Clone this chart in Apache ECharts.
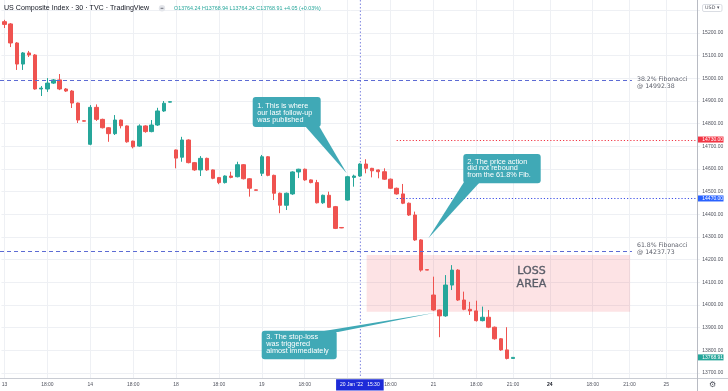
<!DOCTYPE html>
<html><head><meta charset="utf-8">
<script src="https://cdn.jsdelivr.net/npm/echarts/dist/echarts.min.js"></script>
<style>html,body{margin:0;padding:0;background:#fff}#c{width:728px;height:391px}</style>
</head><body><div id="c"></div>
<script>
// ---------------- data ----------------
const sessionDays = ['13', '14', '18', '19', '20', '21'];
const sessionTimes = ['14:30','15:00','15:30','16:00','16:30','17:00','17:30','18:00','18:30','19:00','19:30','20:00','20:30','21:00'];
const futureSlots = 30;

const opens = [15250,15240,15156,15063,15112,15103,14953,14953,14979,14993,14953,14944,14891,14813,
 14709,14872,14819,14782,14756,14816,14790,14723,14701,14790,14765,14794,14856,14895,
 14684,14652,14728,14628,14596,14647,14596,14562,14540,14569,14566,14619,14557,14508,
 14581,14654,14572,14493,14440,14490,14587,14599,14552,14540,14451,14484,14434,14342,
 14463,14563,14569,14622,14603,14596,14588,14555,14515,14490,14449,14397,14287,14156,
 14044,13978,13952,14088,14154,14022,13981,13974,13931,13946,13902,13851,13802,13764.24];
const closes = [15238,15156,15063,15112,15103,14953,14957,14979,14993,14953,14944,14891,14816,14811,
 14872,14819,14782,14756,14816,14791,14720,14698,14790,14765,14794,14856,14890,14897,
 14648,14728,14628,14596,14647,14596,14559,14540,14569,14563,14619,14557,14515,14506,
 14654,14572,14493,14440,14493,14587,14599,14552,14540,14451,14484,14431,14338,14340,
 14566,14569,14622,14603,14592,14588,14555,14515,14490,14449,14397,14287,14154,14154,
 13978,13952,14088,14154,14022,13981,13974,13931,13946,13902,13851,13802,13764.24,13768.91];
const lows = [15222,15138,15037,15037,15094,14950,14922,14940,14975,14948,14940,14869,14803,14810,
 14705,14812,14779,14720,14750,14779,14716,14691,14698,14760,14762,14790,14852,14894,
 14603,14632,14625,14592,14569,14592,14555,14533,14536,14559,14563,14554,14478,14505,
 14569,14568,14463,14405,14419,14486,14560,14548,14537,14448,14446,14428,14335,14339,
 14460,14522,14566,14581,14563,14559,14552,14512,14487,14445,14393,14283,14147,14153,
 13975,13858,13948,14066,14018,13977,13956,13927,13928,13898,13847,13798,13760,13764.24];
const highs = [15258,15244,15160,15116,15121,15107,14966,15001,14997,15019,14957,14948,14893,14815,
 14882,14885,14822,14785,14838,14818,14792,14725,14797,14793,14816,14870,14900,14899,
 14686,14742,14731,14631,14657,14650,14598,14565,14572,14588,14632,14622,14560,14509,
 14662,14657,14575,14496,14496,14590,14601,14602,14554,14552,14487,14500,14437,14343,
 14570,14575,14625,14643,14605,14598,14603,14558,14518,14534,14452,14412,14290,14157,
 14125,13980,14132,14176,14158,14059,14014,14019,13993,13978,13905,13854,13902,13768.94];

// time-axis tick labels: [bar index, text]
const xTickLabels = [[0,'13'],[7,'18:00'],[14,'14'],[21,'18:00'],[28,'18'],[35,'18:00'],[42,'19'],[49,'18:00'],
  [56,'20'],[63,'18:00'],[70,'21'],[77,'18:00'],[83,'21:00'],[89,'24'],[96,'18:00'],[102,'21:00'],[108,'25']];
const boldTicks = ['24'];
const crosshairIndex = 58;
const crosshairLabel = "20 Jan '22   15:30";

const yRange = [13677.96, 15345.59];
const yStep = 100;
const yHiddenAbove = 15250;

const fibLevels = [
  {name: '38.2% Fibonacci', value: 14992.38},
  {name: '61.8% Fibonacci', value: 14237.73}
];
const fibSpan = [-0.73, 102.4];          // bar-index extent of the fib lines
const redLevel = 14730.00;
const blueLevel = 14470.00;
const levelStart = 64;                    // bar index where dotted levels start
const lastPrice = 13768.91;
const lossArea = {from: 59.1, to: 102.1, top: 14221, bottom: 13970, text: 'LOSS\nAREA'};
const headerTitle = 'US Composite Index · 30 · TVC · TradingView';
const headerOHLC = 'O13764.24 H13768.94 L13764.24 C13768.91 +4.05 (+0.03%)';
const callouts = [
  {lines: ['1. This is where', 'our last follow-up', 'was published'], tip: [55.85, 14581]},
  {lines: ['2. The price action', 'did not rebound', 'from the 61.8% Fib.'], tip: [69.17, 14294]},
  {lines: ['3. The stop-loss', 'was triggered', 'almost immediately'], tip: [70.26, 13966]}
];

// ---------------- build ----------------
const nBars = opens.length;
const categories = [];
for (let i = 0; i < nBars + futureSlots; i++) {
  categories.push(i < nBars ? sessionDays[Math.floor(i / 14)] + ' ' + sessionTimes[i % 14] : 'f' + i);
}
const ohlc = opens.map((o, i) => [o, closes[i], lows[i], highs[i]]);
const labelAt = {};
xTickLabels.forEach(([i, t]) => { labelAt[i] = t; });

const AX = '"Liberation Sans", Arial, sans-serif';
const TV = '"DejaVu Sans", Verdana, sans-serif';
const UP = '#26a69a', DOWN = '#ef5350';

const chart = echarts.init(document.getElementById('c'), null, {renderer: 'canvas'});
chart.setOption({
  animation: false,
  backgroundColor: '#ffffff',
  grid: {left: 1.44, top: 0, width: 698.5, height: 378, containLabel: false, outerBoundsMode: 'none'},
  xAxis: {
    type: 'category', data: categories, boundaryGap: true,
    axisLine: {show: false}, axisTick: {show: false}, splitLine: {show: false},
    axisLabel: {
      interval: 0, margin: 1.2, hideOverlap: false,
      formatter: (v, idx) => {
        if (idx === crosshairIndex) return '{hl|' + crosshairLabel + '}';
        const t = labelAt[idx];
        if (t == null || Math.abs(idx - crosshairIndex) < 4) return '';
        return (boldTicks.includes(t) ? '{b|' : '{n|') + t + '}';
      },
      rich: {
        n: {fontSize: 5, color: '#50535e', fontFamily: AX, padding: [3, 0, 0, 0]},
        b: {fontSize: 5, color: '#131722', fontWeight: 'bold', fontFamily: AX, padding: [3, 0, 0, 0]},
        hl: {fontSize: 5, color: '#ffffff', backgroundColor: '#1d2bd8', fontFamily: AX, padding: [3.2, 4, 3, 4]}
      }
    }
  },
  yAxis: {
    type: 'value', position: 'right', scale: true,
    min: yRange[0], max: yRange[1], splitNumber: 16, minInterval: yStep, maxInterval: yStep,
    axisLine: {show: false}, axisTick: {show: false},
    splitLine: {show: true, showMinLine: false, showMaxLine: false, lineStyle: {color: '#eef0f4', width: 1}},
    axisLabel: {
      showMinLabel: false, showMaxLabel: false, margin: 2.4, align: 'left',
      fontSize: 5, color: '#50535e', fontFamily: AX,
      formatter: v => (v > yHiddenAbove ? '' : v.toFixed(2))
    }
  },
  series: [{
    type: 'candlestick',
    data: ohlc,
    barWidth: 3.9,
    z: 2,
    itemStyle: {color: UP, color0: DOWN, borderColor: UP, borderColor0: DOWN, borderWidth: 1},
    markLine: {
      silent: true, symbol: 'none', z: 0, animation: false,
      label: {show: false},
      lineStyle: {color: '#eef0f4', type: 'solid', width: 1},
      data: xTickLabels.map(([i]) => ({xAxis: i}))
    }
  }]
});

// ------------- annotations (positions through the axes) -------------
const x0 = chart.convertToPixel({xAxisIndex: 0}, 0);
const x1 = chart.convertToPixel({xAxisIndex: 0}, 1);
const xAt = f => x0 + f * (x1 - x0);
const yAt = v => chart.convertToPixel({yAxisIndex: 0}, v);
const sepX = 697.5, axisY = 378.5;
const g = [];

// crosshair vertical dotted line
g.push({type: 'line', z: 1, shape: {x1: xAt(crosshairIndex) + 0.5, y1: 0, x2: xAt(crosshairIndex) + 0.5, y2: axisY},
  style: {stroke: '#7f86e0', lineWidth: 1, lineDash: [1.5, 2]}});

// loss area
const laTop = yAt(lossArea.top), laBot = yAt(lossArea.bottom);
g.push({type: 'rect', z: 1, shape: {x: xAt(lossArea.from), y: laTop, width: xAt(lossArea.to) - xAt(lossArea.from), height: laBot - laTop},
  style: {fill: 'rgba(242,54,69,0.14)'}});
g.push({type: 'text', z: 1, x: xAt(86), y: laTop + 22.8,
  style: {text: lossArea.text, fill: '#5a5d68', fontSize: 11, fontFamily: TV, align: 'center', verticalAlign: 'middle', lineHeight: 12.3,
    stroke: '#5a5d68', lineWidth: 0.35}});

// fib lines + labels
const fibTextTop = [-4.9, -9.6];
fibLevels.forEach((f, k) => {
  const y = Math.round(yAt(f.value)) + 0.5;
  g.push({type: 'line', z: 10, shape: {x1: xAt(fibSpan[0]), y1: y, x2: xAt(fibSpan[1]), y2: y},
    style: {stroke: '#5c6bd4', lineWidth: 1, lineDash: [4, 3]}});
  g.push({type: 'text', z: 10, x: 637, y: y + fibTextTop[k],
    style: {text: f.name + '\n@ ' + f.value.toFixed(2), fill: '#5d606b', fontSize: 6.2, fontFamily: TV, align: 'left', verticalAlign: 'top', lineHeight: 7}});
});

// dotted price levels
[[redLevel, '#f23645'], [blueLevel, '#3f51e6']].forEach(([v, c]) => {
  const y = Math.round(yAt(v)) + 0.5;
  g.push({type: 'line', z: 10, shape: {x1: xAt(levelStart), y1: y, x2: sepX, y2: y},
    style: {stroke: c, lineWidth: 1, lineDash: [1.2, 2]}});
});

// callouts
const CC = '#40a9b6';
const boxes = [
  {box: [252.7, 97, 68, 30], base: [[305, 126], [319, 126]], textTop: 102.5, textX: 257.2},
  {box: [463.3, 154, 77.4, 29.3], base: [[464, 182], [480, 182]], textTop: 158.2, textX: 467.2},
  {box: [261.7, 330.7, 75, 28.6], base: [[318, 332], [338, 332]], textTop: 333.8, textX: 266.2}
];
callouts.forEach((c, k) => {
  const b = boxes[k];
  const tip = [xAt(c.tip[0]), yAt(c.tip[1])];
  g.push({type: 'polygon', z: 20, shape: {points: [b.base[0], b.base[1], tip]}, style: {fill: CC}});
  g.push({type: 'rect', z: 20, shape: {x: b.box[0], y: b.box[1], width: b.box[2], height: b.box[3], r: 3}, style: {fill: CC}});
  g.push({type: 'text', z: 21, x: b.textX, y: b.textTop,
    style: {text: c.lines.join('\n'), fill: '#ffffff', fontSize: 7.3, fontFamily: AX, align: 'left', verticalAlign: 'top', lineHeight: 6.8}});
});

// header
g.push({type: 'text', z: 30, x: 4, y: 8.3, style: {text: headerTitle, fill: '#131722', fontSize: 7.1, fontFamily: AX, verticalAlign: 'middle'}});
g.push({type: 'circle', z: 30, shape: {cx: 162, cy: 8.3, r: 3.2}, style: {fill: '#e3e5ea'}});
g.push({type: 'line', z: 31, shape: {x1: 160.6, y1: 8.3, x2: 163.4, y2: 8.3}, style: {stroke: '#50535e', lineWidth: 0.8}});
g.push({type: 'text', z: 30, x: 174, y: 8.3, style: {text: headerOHLC, fill: UP, fontSize: 5.35, fontFamily: AX, verticalAlign: 'middle'}});

// axis frame
g.push({type: 'line', z: 30, shape: {x1: 0, y1: axisY, x2: 728, y2: axisY}, style: {stroke: '#c9ccd3', lineWidth: 1}});
g.push({type: 'line', z: 30, shape: {x1: sepX, y1: 0, x2: sepX, y2: 391}, style: {stroke: '#b8bbc3', lineWidth: 1}});

// price badges
[[redLevel, '#f23645'], [blueLevel, '#2962ff'], [lastPrice, UP]].forEach(([v, c]) => {
  const y = yAt(v);
  g.push({type: 'rect', z: 30, shape: {x: 698, y: y - 3, width: 25.5, height: 6}, style: {fill: c}});
  g.push({type: 'text', z: 31, x: 702.3, y: y, style: {text: v.toFixed(2), fill: '#ffffff', fontSize: 5, fontFamily: AX, verticalAlign: 'middle'}});
});

// currency box & settings gear
g.push({type: 'rect', z: 30, shape: {x: 702.5, y: 4.5, width: 19.5, height: 7, r: 1.5}, style: {fill: '#ffffff', stroke: '#d1d4dc', lineWidth: 0.8}});
g.push({type: 'text', z: 31, x: 712.2, y: 8.1, style: {text: 'USD ▾', fill: '#50535e', fontSize: 4.8, fontFamily: TV, align: 'center', verticalAlign: 'middle'}});
g.push({type: 'text', z: 31, x: 712.5, y: 385, style: {text: '⚙', fill: '#50535e', fontSize: 8, fontFamily: TV, align: 'center', verticalAlign: 'middle'}});

chart.setOption({graphic: g});
</script>
</body></html>
